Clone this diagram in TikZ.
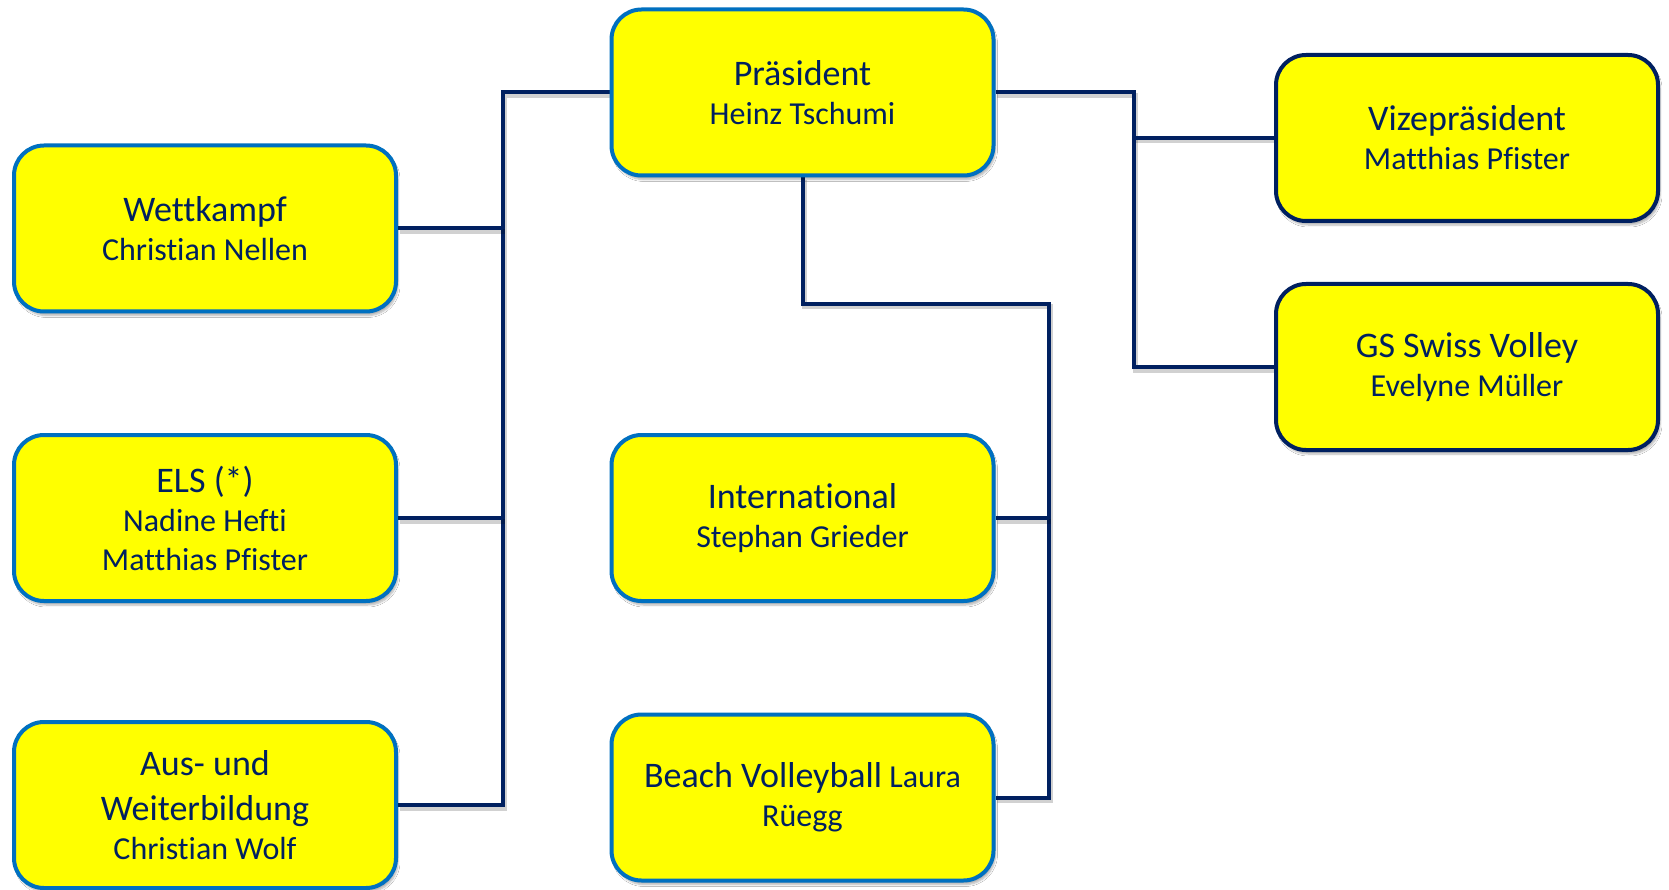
\documentclass[tikz,border=0pt]{standalone}
\usepackage{fontspec}
\setmainfont{Carlito}[Ligatures=NoCommon]
\usetikzlibrary{shadows.blur,backgrounds}
\definecolor{navy}{HTML}{002060}
\definecolor{bblue}{HTML}{0070C0}
\definecolor{yel}{HTML}{FFFF00}
\newcommand{\ttl}[1]{{\fontsize{36}{42}\selectfont #1}}
\tikzset{
 box/.style={draw=bblue, line width=4pt, fill=yel, rounded corners=30pt,
   minimum width=382pt, minimum height=166pt, align=center, text=navy,
   font=\fontsize{32}{39}\selectfont, inner sep=0pt,
   blur shadow={shadow xshift=2pt, shadow yshift=-4pt, shadow blur steps=6, shadow opacity=30}},
 boxdark/.style={box, draw=navy},
 conn/.style={draw=navy, line width=4pt, line join=miter,
   preaction={draw=black, opacity=0.18, line width=5pt, transform canvas={shift={(1.5pt,-3pt)}}}}
}
\begin{document}
\begin{tikzpicture}[x=1pt,y=-1pt]
\useasboundingbox (0,0) rectangle (1669,890);
\node[box] (pres) at (802.5,92.5) {\ttl{Präsident}\\Heinz Tschumi};
\node[box] (wett) at (205,228.5) {\ttl{Wettkampf}\\Christian Nellen};
\node[box] (els) at (205,518) {\ttl{ELS (*)}\\Nadine Hefti\\Matthias Pfister};
\node[box] (aus) at (205,805) {\ttl{Aus- und}\\[6pt]\ttl{Weiterbildung}\\Christian Wolf};
\node[box] (intl) at (802.5,518) {\ttl{International}\\Stephan Grieder};
\node[box] (beach) at (802.5,797.5) {\ttl{Beach Volleyball} Laura\\Rüegg};
\node[boxdark] (vize) at (1467,138) {\ttl{Vizepräsident}\\Matthias Pfister};
\node[boxdark] (gs) at (1467,367) {\ttl{GS Swiss Volley}\\Evelyne Müller};
\coordinate (lb) at (503,0);
\coordinate (rb) at (1134,0);
\coordinate (mb) at (1049,304);
\begin{scope}[on background layer]
\fill[white] (0,0) rectangle (1669,890);
\draw[conn] (pres.west) -- (pres.west -| lb) -- (aus.east -| lb) -- (aus.east);
\draw[conn] (wett.east) -- (wett.east -| lb);
\draw[conn] (els.east) -- (els.east -| lb);
\draw[conn] (pres.east) -- (pres.east -| rb) -- (gs.west -| rb) -- (gs.west);
\draw[conn] (vize.west -| rb) -- (vize.west);
\draw[conn] (pres.south) -- (pres.south |- mb) -- (mb) -- (beach.east -| mb) -- (beach.east);
\draw[conn] (intl.east) -- (intl.east -| mb);
\end{scope}
\end{tikzpicture}
\end{document}
